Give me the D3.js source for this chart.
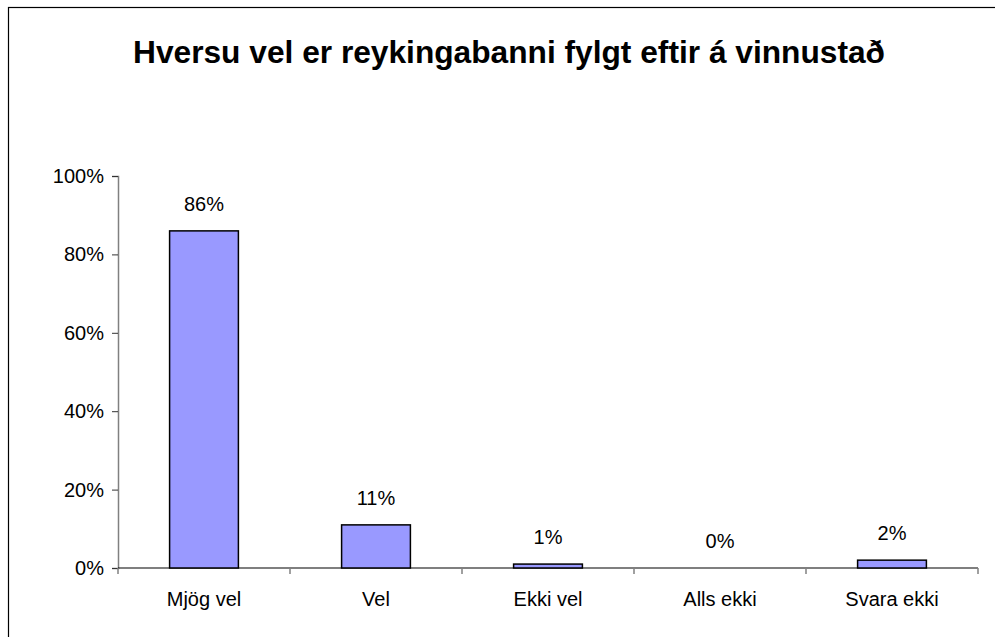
<!DOCTYPE html>
<html lang="is">
<head>
    <meta charset="UTF-8">
    <script src="https://d3js.org/d3.v7.min.js"></script>
    <title>Reykingabann</title>
    <style>
        body { margin: 0; background: white; }
        svg { display: block; font-family: "Liberation Sans", Arial, sans-serif; }
    </style>
</head>
<body>
    <div class="chart"></div>
    <script>
        // Data
        const categories = ["Mjög vel", "Vel", "Ekki vel", "Alls ekki", "Svara ekki"];
        const values = [0.86, 0.11, 0.01, 0.00, 0.02];
        const yTicks = [0, 0.2, 0.4, 0.6, 0.8, 1.0];
        const title = "Hversu vel er reykingabanni fylgt eftir á vinnustað";

        const width = 995, height = 637;
        const margin = { top: 176, right: 17, bottom: 69, left: 118 };
        const fontSize = "20px";

        const svg = d3.select(".chart").append("svg")
            .attr("width", width)
            .attr("height", height);

        // outer frame (right/bottom edges run off the picture)
        svg.append("rect")
            .attr("x", 8.5).attr("y", 7.5)
            .attr("width", width).attr("height", height)
            .attr("fill", "none")
            .attr("stroke", "black")
            .attr("stroke-width", 1.2);

        svg.append("text")
            .attr("x", 509).attr("y", 63)
            .attr("text-anchor", "middle")
            .attr("font-size", "31.7px")
            .attr("font-weight", "bold")
            .text(title);

        const x = d3.scaleBand()
            .domain(categories)
            .range([margin.left, width - margin.right])
            .paddingInner(0.6)
            .paddingOuter(0.3);

        const y = d3.scaleLinear()
            .domain([0, 1])
            .range([height - margin.bottom, margin.top]);

        // y axis
        const yAxis = svg.append("g")
            .attr("transform", `translate(${margin.left},0)`)
            .call(d3.axisLeft(y).tickValues(yTicks).tickFormat(d3.format(".0%")).tickSize(6).tickPadding(8));
        yAxis.select(".domain").attr("stroke", "#808080").attr("stroke-width", 1.5);
        yAxis.selectAll(".tick line").attr("stroke", "#333");
        yAxis.selectAll("text").attr("font-size", fontSize).attr("fill", "black")
            .attr("font-family", "Liberation Sans, Arial, sans-serif");

        // x axis with ticks on the category boundaries
        const bounds = d3.range(categories.length + 1).map(i => margin.left + i * (width - margin.right - margin.left) / categories.length);
        const xg = svg.append("g");
        xg.append("line")
            .attr("x1", margin.left).attr("x2", width - margin.right)
            .attr("y1", y(0)).attr("y2", y(0))
            .attr("stroke", "black").attr("stroke-width", 1.2);
        xg.selectAll(".xtick").data(bounds).enter().append("line")
            .attr("x1", d => d).attr("x2", d => d)
            .attr("y1", y(0)).attr("y2", y(0) + 6)
            .attr("stroke", "#808080").attr("stroke-width", 1.5);
        xg.selectAll(".xlabel").data(categories).enter().append("text")
            .attr("x", d => x(d) + x.bandwidth() / 2)
            .attr("y", y(0) + 38)
            .attr("text-anchor", "middle")
            .attr("font-size", fontSize)
            .text(d => d);

        // bars
        const data = categories.map((c, i) => ({ cat: c, val: values[i] }));
        svg.selectAll(".bar").data(data).enter().append("rect")
            .attr("x", d => x(d.cat))
            .attr("y", d => y(d.val))
            .attr("width", x.bandwidth())
            .attr("height", d => y(0) - y(d.val))
            .attr("fill", "#9999ff")
            .attr("stroke", d => d.val > 0 ? "black" : "none")
            .attr("stroke-width", 1.5);

        // value labels
        svg.selectAll(".val").data(data).enter().append("text")
            .attr("x", d => x(d.cat) + x.bandwidth() / 2)
            .attr("y", d => y(d.val) - 20)
            .attr("text-anchor", "middle")
            .attr("font-size", fontSize)
            .text(d => d3.format(".0%")(d.val));
    </script>
</body>
</html>
